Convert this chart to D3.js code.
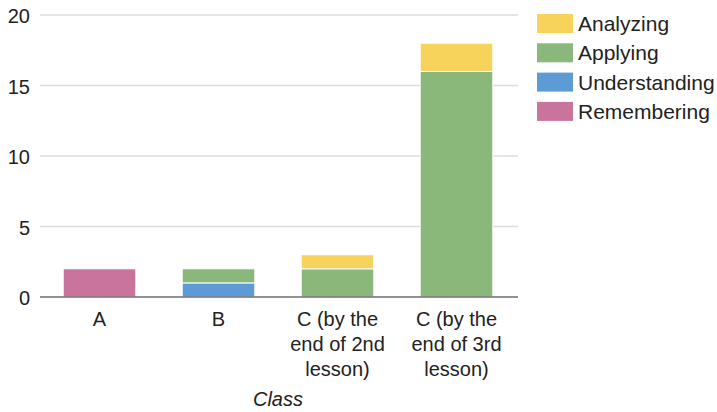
<!DOCTYPE html>
<html>
<head>
<meta charset="utf-8">
<script src="https://cdn.jsdelivr.net/npm/d3@7/dist/d3.min.js"></script>
<style>
  html, body { margin: 0; padding: 0; background: #fff; }
  svg { display: block; font-family: "Liberation Sans", Arial, Helvetica, sans-serif; }
</style>
</head>
<body>
<svg id="chart" width="717" height="412"></svg>
<script>
// Classes on the x axis, with the wrapped lines of each tick label
const categories = ["A", "B", "C2", "C3"];
const tickLines = [
  ["A"],
  ["B"],
  ["C (by the", "end of 2nd", "lesson)"],
  ["C (by the", "end of 3rd", "lesson)"]
];

// Counts per level, one array per series (stacked bottom to top)
const seriesNames = ["Remembering", "Understanding", "Applying", "Analyzing"];
const remembering   = [2, 0, 0, 0];
const understanding = [0, 1, 0, 0];
const applying      = [0, 1, 2, 16];
const analyzing     = [0, 0, 1, 2];

const yTicks = [0, 5, 10, 15, 20];
const colors = {
  Remembering: "#c8749d",
  Understanding: "#5c9bd6",
  Applying: "#89b87a",
  Analyzing: "#f7d35b"
};

const rows = categories.map((c, i) => ({
  cat: c,
  Remembering: remembering[i],
  Understanding: understanding[i],
  Applying: applying[i],
  Analyzing: analyzing[i]
}));

const svg = d3.select("#chart");

const x = d3.scaleBand()
  .domain(categories)
  .range([40, 516])
  .paddingInner(0.39)
  .paddingOuter(0.195);

const y = d3.scaleLinear().domain([0, 20]).range([297, 15]);

// Horizontal gridlines
svg.append("g")
  .selectAll("line")
  .data(yTicks.filter(t => t > 0))
  .join("line")
  .attr("x1", 40).attr("x2", 518)
  .attr("y1", d => y(d)).attr("y2", d => y(d))
  .attr("stroke", "#dcdcdc")
  .attr("stroke-width", 1.5);

// Y tick labels
svg.append("g")
  .selectAll("text")
  .data(yTicks)
  .join("text")
  .attr("x", 30)
  .attr("y", d => y(d))
  .attr("dy", "0.4em")
  .attr("text-anchor", "end")
  .attr("font-size", 20)
  .attr("fill", "#222")
  .text(d => d);

// Stacked bars
const stacked = d3.stack().keys(seriesNames)(rows);
svg.append("g")
  .selectAll("g")
  .data(stacked)
  .join("g")
  .attr("fill", d => colors[d.key])
  .selectAll("rect")
  .data(d => d.filter(s => s[1] - s[0] > 0))
  .join("rect")
  .attr("x", d => x(d.data.cat))
  .attr("width", x.bandwidth())
  .attr("y", d => y(d[1]))
  .attr("height", d => y(d[0]) - y(d[1]))
  .attr("stroke", "#fff")
  .attr("stroke-width", 1);

// Baseline axis
svg.append("line")
  .attr("x1", 40).attr("x2", 518)
  .attr("y1", y(0)).attr("y2", y(0))
  .attr("stroke", "#6e6e6e")
  .attr("stroke-width", 1.5);

// X tick labels (multi-line)
const xLabels = svg.append("g")
  .selectAll("text")
  .data(categories)
  .join("text")
  .attr("x", d => x(d) + x.bandwidth() / 2)
  .attr("y", y(0) + 29)
  .attr("text-anchor", "middle")
  .attr("font-size", 20)
  .attr("fill", "#222");
xLabels.each(function(d, i) {
  d3.select(this).selectAll("tspan")
    .data(tickLines[i])
    .join("tspan")
    .attr("x", x(d) + x.bandwidth() / 2)
    .attr("dy", (t, j) => j === 0 ? 0 : 25)
    .text(t => t);
});

// X axis title
svg.append("text")
  .attr("x", (40 + 516) / 2)
  .attr("y", 406)
  .attr("text-anchor", "middle")
  .attr("font-size", 20)
  .attr("font-style", "italic")
  .attr("fill", "#222")
  .text("Class");

// Legend (top series first)
const legendItems = seriesNames.slice().reverse();
const legend = svg.append("g")
  .selectAll("g")
  .data(legendItems)
  .join("g")
  .attr("transform", (d, i) => `translate(537, ${14 + i * 29.3})`);
legend.append("rect")
  .attr("width", 36)
  .attr("height", 19)
  .attr("fill", d => colors[d]);
legend.append("text")
  .attr("x", 41)
  .attr("y", 9.5)
  .attr("dy", "0.36em")
  .attr("font-size", 21)
  .attr("fill", "#222")
  .text(d => d);
</script>
</body>
</html>
